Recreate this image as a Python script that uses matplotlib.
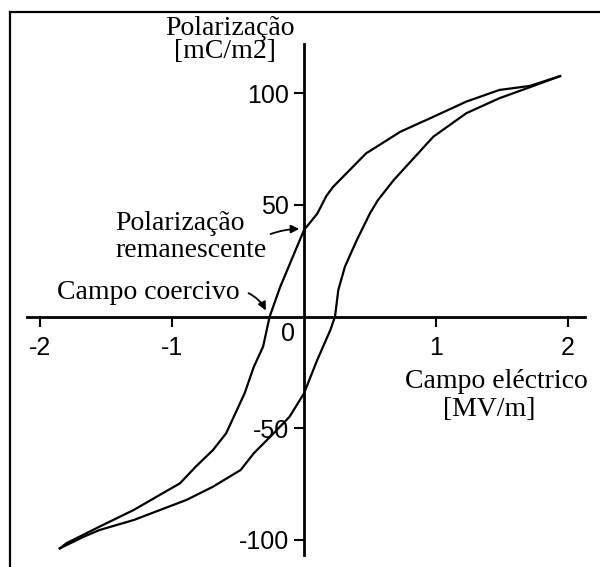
import matplotlib
matplotlib.use('Agg')
import matplotlib.pyplot as plt
from matplotlib.lines import Line2D

# ---- data ----
upper_x = [1.94, 1.71, 1.48, 1.23, 0.98, 0.73, 0.47, 0.22, 0.17, 0.10, 0.0,
           -0.18, -0.26, -0.31, -0.38, -0.45, -0.59, -0.69, -0.82, -0.94,
           -1.07, -1.29, -1.55, -1.80, -1.85]
upper_y = [107.6, 103.2, 101.4, 96.2, 89.4, 82.7, 73.0, 58.0, 54.0, 46.0, 38.7,
           13.3, 0.0, -13.5, -22.5, -34.4, -52.3, -59.8, -67.2, -74.7,
           -79.1, -86.6, -94.1, -101.5, -103.8]
lower_x = [-1.85, -1.67, -1.55, -1.29, -1.09, -0.89, -0.69, -0.48, -0.38, -0.23,
           -0.11, 0.0, 0.10, 0.20, 0.235, 0.26, 0.31, 0.40, 0.50, 0.56, 0.68,
           0.98, 1.23, 1.48, 1.71, 1.94]
lower_y = [-103.8, -98.6, -95.6, -91.1, -86.6, -82.1, -76.2, -68.7, -61.2, -52.3,
           -44.9, -34.4, -19.5, -6.0, 0.0, 11.9, 22.3, 34.2, 46.2, 52.1, 61.1,
           80.5, 91.0, 97.7, 102.6, 107.6]
xticks = [-2, -1, 1, 2]
yticks = [-100, -50, 50, 100]

W, H = 600, 567
fig = plt.figure(figsize=(6, 5.67), dpi=100)
ax = fig.add_axes([0, 0, 1, 1])
X0, SX = 304, 132.0
Y0, SY = 316.5, 2.234
ax.set_xlim(-X0 / SX, (W - X0) / SX)
ax.set_ylim((Y0 - H) / SY, Y0 / SY)
ax.patch.set_alpha(0)

ax.plot(upper_x, upper_y, color='black', lw=1.6)
ax.plot(lower_x, lower_y, color='black', lw=1.6)

for s in ['top', 'right']:
    ax.spines[s].set_visible(False)
ax.spines['left'].set_position(('data', 0))
ax.spines['bottom'].set_position(('data', 0))
ax.spines['left'].set_bounds((Y0 - 555) / SY, (Y0 - 44) / SY)
ax.spines['bottom'].set_bounds((27 - X0) / SX, (585 - X0) / SX)
for s in ['left', 'bottom']:
    ax.spines[s].set_linewidth(2.0)

ax.set_xticks(xticks)
ax.set_xticklabels([str(v) for v in xticks])
ax.set_yticks(yticks)
ax.set_yticklabels([str(v) for v in yticks])
ax.tick_params(axis='both', direction='out', length=7, width=1.5,
               labelsize=18)
ax.tick_params(axis='x', pad=7)
ax.tick_params(axis='y', pad=4)
for lab in ax.get_xticklabels() + ax.get_yticklabels():
    lab.set_fontfamily('Liberation Sans')


def P(px, py):
    return (px / W, 1 - py / H)


serif = dict(family='Liberation Serif', fontsize=20, color='black')

fig.text(*P(288, 334), '0', family='Liberation Sans', fontsize=18,
         ha='center', va='center')
fig.text(*P(230, 35), 'Polarização', ha='center', va='baseline', **serif)
fig.text(*P(225, 58), '[mC/m2]', ha='center', va='baseline', **serif)
fig.text(*P(405, 388), 'Campo eléctrico', ha='left', va='baseline', **serif)
fig.text(*P(443, 416), '[MV/m]', ha='left', va='baseline', **serif)
fig.text(*P(115, 230), 'Polarização', ha='left', va='baseline', **serif)
fig.text(*P(115, 257), 'remanescente', ha='left', va='baseline', **serif)
fig.text(*P(57, 299), 'Campo coercivo', ha='left', va='baseline', **serif)

ax.annotate('', xy=P(302, 229), xytext=P(268, 235),
            xycoords='figure fraction', textcoords='figure fraction',
            arrowprops=dict(arrowstyle='-|>', color='black', lw=1.3,
                            mutation_scale=12,
                            connectionstyle='arc3,rad=-0.1'))
ax.annotate('', xy=P(267, 313), xytext=P(246, 292),
            xycoords='figure fraction', textcoords='figure fraction',
            arrowprops=dict(arrowstyle='-|>', color='black', lw=1.3,
                            mutation_scale=12,
                            connectionstyle='arc3,rad=-0.2'))

# frame (left and top edges)
fig.add_artist(Line2D([10 / W, 10 / W], [0, 1 - 12 / H],
                      transform=fig.transFigure, color='black', lw=1.6))
fig.add_artist(Line2D([10 / W, 1], [1 - 12 / H, 1 - 12 / H],
                      transform=fig.transFigure, color='black', lw=1.6))

fig.savefig('out.png', dpi=100)
